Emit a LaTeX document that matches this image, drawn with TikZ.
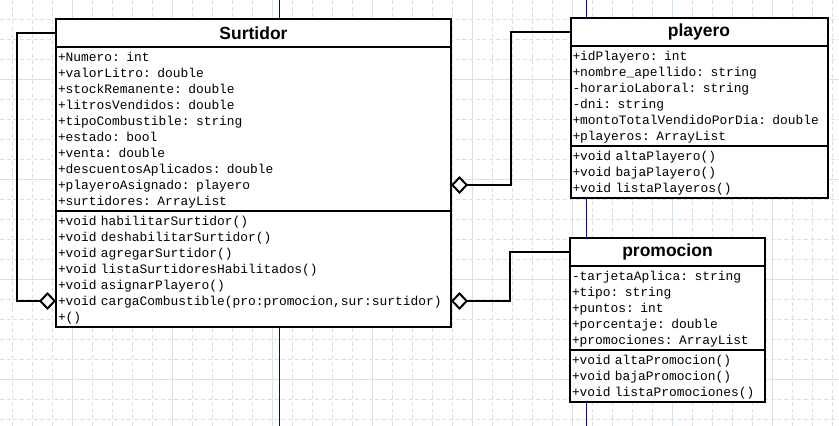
\documentclass[tikz,border=0pt]{standalone}
\usepackage{fontspec}
\setmainfont{Liberation Sans}
\newfontfamily\umlmono{Liberation Mono}
\usetikzlibrary{positioning,arrows.meta}
\definecolor{ink}{HTML}{000000}
\definecolor{gridline}{HTML}{D3E3DF}
\definecolor{pagebreak}{HTML}{0A0A8C}
\newcommand{\rowstrut}{\rule[-3.5pt]{0pt}{16pt}}
\tikzset{
  x=1pt, y=-1pt,
  head/.style  = {draw=ink, line width=2pt, fill=white, outer sep=0pt,
                  minimum height=28pt, text=ink,
                  font=\bfseries\fontsize{17.5}{20}\selectfont},
  body/.style  = {draw=ink, line width=2pt, fill=white, outer sep=0pt,
                  inner xsep=2pt, inner ysep=2pt, align=left, text=ink,
                  font=\umlmono\fontsize{12.9}{16}\selectfont,
                  execute at begin node=\rowstrut, execute at end node=\rowstrut},
  assoc/.style = {draw=ink, line width=2pt,
                  -{Diamond[length=17pt, width=18pt, fill=white]}},
  minor/.style = {draw=gridline, line width=1pt, dash pattern=on 4pt off 2.7pt},
  major/.style = {draw=gridline, line width=1pt},
  brk/.style   = {draw=pagebreak, line width=1pt},
}

\begin{document}
\begin{tikzpicture}

\fill[white] (0,0) rectangle (839,426);
\useasboundingbox (0,0) rectangle (839,426);

% ---- sheet grid and page breaks ---------------------------------------
\foreach \gx in {12.7,32.7,...,832.7} \draw[minor] (\gx,0) -- (\gx,426);
\foreach \gy in {19.3,39.3,...,419.3} \draw[minor] (0,\gy) -- (839,\gy);
\foreach \gx in {72.7,172.7,...,772.7} \draw[major] (\gx,0) -- (\gx,426);
\foreach \gy in {79.3,179.3,279.3,379.3} \draw[major] (0,\gy) -- (839,\gy);
\draw[brk] (279.3,0) -- (279.3,426);
\draw[brk] (586,0) -- (586,426);

% ---- Surtidor ---------------------------------------------------------
\node[head, minimum width=395, anchor=north west] at (56,19) (surt) {Surtidor};
\node[body, text width=391pt, below=0pt of surt] (surt-attr)
  {+Numero: int\\
   +valorLitro: double\\
   +stockRemanente: double\\
   +litrosVendidos: double\\
   +tipoCombustible: string\\
   +estado: bool\\
   +venta: double\\
   +descuentosAplicados: double\\
   +playeroAsignado: playero\\
   +surtidores: ArrayList};
\node[body, text width=391pt, below=0pt of surt-attr] (surt-meth)
  {+void habilitarSurtidor()\\
   +void deshabilitarSurtidor()\\
   +void agregarSurtidor()\\
   +void listaSurtidoresHabilitados()\\
   +void asignarPlayero()\\
   +void cargaCombustible(pro:promocion,sur:surtidor)\\
   +()};

% ---- playero ----------------------------------------------------------
\node[head, minimum width=257, anchor=north west] at (570.5,18) (play) {playero};
\node[body, text width=253pt, below=0pt of play] (play-attr)
  {+idPlayero: int\\
   +nombre\_apellido: string\\
   -horarioLaboral: string\\
   -dni: string\\
   +montoTotalVendidoPorDia: double\\
   +playeros: ArrayList};
\node[body, text width=253pt, below=0pt of play-attr] (play-meth)
  {+void altaPlayero()\\
   +void bajaPlayero()\\
   +void listaPlayeros()};

% ---- promocion --------------------------------------------------------
\node[head, minimum width=195, anchor=north west] at (570,238) (prom) {promocion};
\node[body, text width=191pt, below=0pt of prom] (prom-attr)
  {-tarjetaAplica: string\\
   +tipo: string\\
   +puntos: int\\
   +porcentaje: double\\
   +promociones: ArrayList};
\node[body, text width=191pt, below=0pt of prom-attr] (prom-meth)
  {+void altaPromocion()\\
   +void bajaPromocion()\\
   +void listaPromociones()};

% ---- aggregations -----------------------------------------------------
\draw[assoc] (surt.west) -- ++(-39,0) |- ([yshift=-32pt]surt-meth.west);
\draw[assoc] (play.west) -- ++(-60,0) |- ([yshift=-56pt]surt-attr.east);
\draw[assoc] (prom.west) -- ++(-60,0) |- ([yshift=-32pt]surt-meth.east);

\end{tikzpicture}
\end{document}
